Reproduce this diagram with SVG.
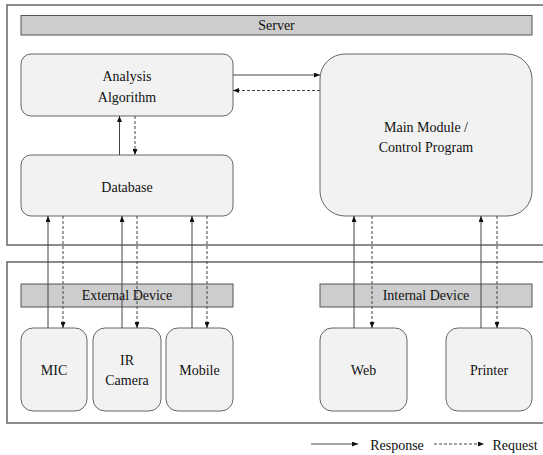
<svg xmlns="http://www.w3.org/2000/svg" width="543" height="455" viewBox="0 0 543 455">
<defs>
<marker id="ah" viewBox="0 0 6 5" refX="6" refY="2.5" markerWidth="6" markerHeight="5" markerUnits="userSpaceOnUse" orient="auto">
<path d="M0,0 L6,2.5 L0,5 z" fill="#111"/>
</marker>
</defs>
<style>
.frame{fill:#fff;stroke:#666;stroke-width:1.5}
.bar{fill:#cdcdcd;stroke:#555;stroke-width:1}
.node{fill:#f2f2f2;stroke:#666;stroke-width:1}
.t{font-family:"Liberation Serif","DejaVu Serif",serif;font-size:14px;fill:#111;text-anchor:middle}
.s{fill:none;stroke:#444;stroke-width:1;marker-end:url(#ah)}
.d{fill:none;stroke:#444;stroke-width:1;stroke-dasharray:3,2;marker-end:url(#ah)}
</style>
<rect width="543" height="455" fill="#fff"/>
<g id="server-frame">
<rect class="frame" x="7" y="5" width="545" height="240"/>
</g>
<g id="device-frame">
<rect class="frame" x="7" y="262" width="545" height="161"/>
</g>
<g id="server-bar">
<rect class="bar" x="21" y="15.5" width="511" height="19.5"/>
<text class="t" x="276.5" y="30" font-family="Liberation Serif, serif">Server</text>
</g>
<g id="analysis">
<rect class="node" x="21" y="54" width="212" height="62" rx="10"/>
<text class="t" x="127" y="81" font-family="Liberation Serif, serif">Analysis</text>
<text class="t" x="127" y="102" font-family="Liberation Serif, serif">Algorithm</text>
</g>
<g id="main-module">
<rect class="node" x="320" y="54" width="212" height="162" rx="25"/>
<text class="t" x="426" y="132" font-family="Liberation Serif, serif">Main Module /</text>
<text class="t" x="426" y="152" font-family="Liberation Serif, serif">Control Program</text>
</g>
<g id="database">
<rect class="node" x="21" y="155" width="212" height="61" rx="10"/>
<text class="t" x="127" y="192" font-family="Liberation Serif, serif">Database</text>
</g>
<g id="external-bar">
<rect class="bar" x="21" y="284" width="212" height="23"/>
<text class="t" x="127" y="300" font-family="Liberation Serif, serif">External Device</text>
</g>
<g id="internal-bar">
<rect class="bar" x="320" y="284" width="212" height="23"/>
<text class="t" x="426" y="300" font-family="Liberation Serif, serif">Internal Device</text>
</g>
<g id="mic">
<rect class="node" x="21" y="328" width="66" height="83" rx="12"/>
<text class="t" x="54" y="375" font-family="Liberation Serif, serif">MIC</text>
</g>
<g id="ir-camera">
<rect class="node" x="93" y="328" width="68" height="83" rx="12"/>
<text class="t" x="127" y="365" font-family="Liberation Serif, serif">IR</text>
<text class="t" x="127" y="385" font-family="Liberation Serif, serif">Camera</text>
</g>
<g id="mobile">
<rect class="node" x="166" y="328" width="67" height="83" rx="12"/>
<text class="t" x="199.5" y="375" font-family="Liberation Serif, serif">Mobile</text>
</g>
<g id="web">
<rect class="node" x="320" y="328" width="87" height="83" rx="12"/>
<text class="t" x="363.5" y="375" font-family="Liberation Serif, serif">Web</text>
</g>
<g id="printer">
<rect class="node" x="446" y="328" width="86" height="83" rx="12"/>
<text class="t" x="489" y="375" font-family="Liberation Serif, serif">Printer</text>
</g>
<g id="connectors">
<line class="s" x1="233" y1="75" x2="320" y2="75"/>
<line class="d" x1="320" y1="90.5" x2="233" y2="90.5"/>
<line class="s" x1="119.5" y1="155" x2="119.5" y2="116"/>
<line class="d" x1="135" y1="116" x2="135" y2="155"/>
<line class="s" x1="48" y1="328" x2="48" y2="216"/>
<line class="d" x1="63" y1="216" x2="63" y2="328"/>
<line class="s" x1="122" y1="328" x2="122" y2="216"/>
<line class="d" x1="137" y1="216" x2="137" y2="328"/>
<line class="s" x1="192" y1="328" x2="192" y2="216"/>
<line class="d" x1="207" y1="216" x2="207" y2="328"/>
<line class="s" x1="354" y1="328" x2="354" y2="216"/>
<line class="d" x1="372" y1="216" x2="372" y2="328"/>
<line class="s" x1="481" y1="328" x2="481" y2="216"/>
<line class="d" x1="497" y1="216" x2="497" y2="328"/>
</g>
<g id="legend">
<line class="s" x1="311" y1="444" x2="358" y2="444"/>
<text class="t" x="397" y="450" font-family="Liberation Serif, serif">Response</text>
<line class="d" x1="434" y1="444" x2="484" y2="444"/>
<text class="t" x="515" y="450" font-family="Liberation Serif, serif">Request</text>
</g>
</svg>
